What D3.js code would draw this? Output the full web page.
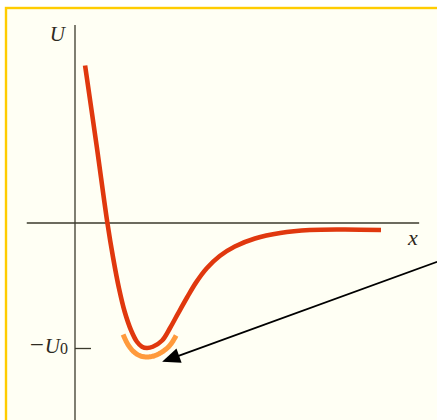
<!DOCTYPE html>
<html>
<head>
<meta charset="utf-8">
<script src="https://cdn.jsdelivr.net/npm/d3@7/dist/d3.min.js"></script>
<style>
  html, body { margin: 0; padding: 0; background: #ffffff; }
  svg { display: block; }
</style>
</head>
<body>
<script>
// Potential energy U(x) of a bound pair: separation x (in units of r0) vs energy (in units of U0)
const sepX   = [0.14, 0.30, 0.45, 0.53, 0.61, 0.69, 0.78, 0.86, 0.93, 1.00, 1.08, 1.21, 1.32, 1.43,
                1.56, 1.68, 1.83, 2.01, 2.22, 2.50, 2.85, 3.26, 3.75, 4.25];
const energy = [1.26, 0.62, 0.00, -0.28, -0.52, -0.71, -0.86, -0.95, -0.99, -1.00, -0.99, -0.94, -0.84, -0.725,
                -0.592, -0.477, -0.362, -0.264, -0.188, -0.124, -0.08, -0.056, -0.052, -0.056];

// Axis tick on the energy axis
const yTickValues = [-1];
const yTickLabels = ["U0"];

// Arrow pointing at the bottom of the well
const arrowFrom = [5.03, -0.31];
const arrowTo   = [1.21, -1.11];

const W = 437, H = 420;
const svg = d3.select("body").append("svg")
  .attr("width", W).attr("height", H);

// Frame
svg.append("rect")
  .attr("x", 6).attr("y", 8)
  .attr("width", W + 10).attr("height", H + 10)
  .attr("fill", "#fffff4")
  .attr("stroke", "#ffcc00")
  .attr("stroke-width", 2.4);

const x = d3.scaleLinear().domain([0, 5]).range([75, 435]);
const y = d3.scaleLinear().domain([-1, 0]).range([348, 223]);

const axisColor = "#3b3a2c";

// Horizontal axis (x)
svg.append("line")
  .attr("x1", x(-0.67)).attr("x2", x(4.78))
  .attr("y1", y(0)).attr("y2", y(0))
  .attr("stroke", axisColor).attr("stroke-width", 1.3);

// Vertical axis (U)
svg.append("line")
  .attr("x1", x(0)).attr("x2", x(0))
  .attr("y1", y(1.584)).attr("y2", H + 2)
  .attr("stroke", axisColor).attr("stroke-width", 1.3);

// Tick at -U0
const yAxis = d3.axisRight(y).tickValues(yTickValues).tickSize(16).tickFormat("");
const yAxisG = svg.append("g").attr("transform", `translate(${x(0)},0)`).call(yAxis);
yAxisG.select(".domain").remove();
yAxisG.selectAll(".tick line").attr("stroke", axisColor).attr("stroke-width", 1.3);

const serif = "'Liberation Serif', 'DejaVu Serif', serif";

yTickValues.forEach((v, i) => {
  const t = svg.append("text")
    .attr("x", x(0) - 7).attr("y", y(v) + 5)
    .attr("text-anchor", "end")
    .attr("font-family", serif)
    .attr("font-size", 21)
    .attr("fill", "#2e2a20");
  t.append("tspan").attr("font-size", 25).text("\u2212");
  t.append("tspan").attr("font-style", "italic").attr("dx", 1).text(yTickLabels[i].charAt(0));
  t.append("tspan").attr("font-size", 16).attr("dy", 1).text(yTickLabels[i].slice(1));
});

// Axis titles
svg.append("text")
  .attr("x", x(0) - 10).attr("y", 41)
  .attr("text-anchor", "end")
  .attr("font-family", serif).attr("font-style", "italic")
  .attr("font-size", 21).attr("fill", "#2e2a20")
  .text("U");

svg.append("text")
  .attr("x", 413).attr("y", 245)
  .attr("text-anchor", "middle")
  .attr("font-family", serif).attr("font-style", "italic")
  .attr("font-size", 22).attr("fill", "#2e2a20")
  .text("x");

// Potential curve
const pts = sepX.map((v, i) => [v, energy[i]]);
const line = d3.line()
  .x(d => x(d[0])).y(d => y(d[1]))
  .curve(d3.curveCatmullRom.alpha(0.5));

const curve = svg.append("path")
  .datum(pts)
  .attr("d", line)
  .attr("fill", "none")
  .attr("stroke", "#e0380e")
  .attr("stroke-width", 4.6)
  .attr("stroke-linecap", "butt")
  .attr("stroke-linejoin", "round");

// Orange band hugging the bottom of the well, offset below the curve
const node = curve.node();
const total = node.getTotalLength();
const yMinPx = y(d3.min(energy));
const band = [];
const step = 0.5, offset = 9;
for (let s = step; s < total - step; s += step) {
  const p = node.getPointAtLength(s);
  if (p.y < yMinPx - 17) continue;
  const a = node.getPointAtLength(s - step), b = node.getPointAtLength(s + step);
  let tx = b.x - a.x, ty = b.y - a.y;
  const len = Math.hypot(tx, ty) || 1;
  tx /= len; ty /= len;
  band.push([p.x - ty * offset, p.y + tx * offset]);
}
svg.append("path")
  .attr("d", d3.line().curve(d3.curveBasis)(band))
  .attr("fill", "none")
  .attr("stroke", "#ff9a3c")
  .attr("stroke-width", 5)
  .attr("stroke-linecap", "butt");

// Arrow
const ax1 = x(arrowFrom[0]), ay1 = y(arrowFrom[1]);
const ax2 = x(arrowTo[0]), ay2 = y(arrowTo[1]);
const ang = Math.atan2(ay2 - ay1, ax2 - ax1);
const headLen = 18, headHalf = 7.5;
const bx = ax2 - headLen * Math.cos(ang), by = ay2 - headLen * Math.sin(ang);
svg.append("line")
  .attr("x1", ax1).attr("y1", ay1)
  .attr("x2", bx + 2 * Math.cos(ang)).attr("y2", by + 2 * Math.sin(ang))
  .attr("stroke", "#000").attr("stroke-width", 1.8);
svg.append("path")
  .attr("d", d3.line()([
    [ax2, ay2],
    [bx + headHalf * Math.sin(ang), by - headHalf * Math.cos(ang)],
    [bx - headHalf * Math.sin(ang), by + headHalf * Math.cos(ang)]
  ]) + "Z")
  .attr("fill", "#000");
</script>
</body>
</html>
